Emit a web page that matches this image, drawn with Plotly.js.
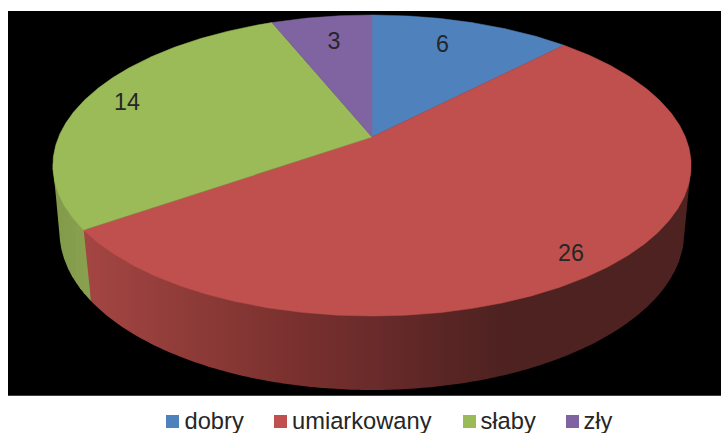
<!DOCTYPE html>
<html>
<head>
<meta charset="utf-8">
<script src="https://cdn.plot.ly/plotly-3.0.1.min.js"></script>
<style>html,body{margin:0;padding:0;background:#fff;overflow:hidden}</style>
</head>
<body>
<div id="chart" style="width:721px;height:433px"></div>
<script>
// Data
var categories = ['dobry', 'umiarkowany', 'słaby', 'zły'];
var values = [6, 26, 14, 3];

// Styles
var sliceColors = ['#4F81BD', '#C0504D', '#9BBB59', '#8064A2'];
var textColor = '#262626';
var fontFamily = '"Liberation Sans", Arial, sans-serif';
var fontSize = 23.3;
var legendFontSize = 23.7;

// Layout positions, in the pixel-sized axis units used below
var labelX = [442.5, 571, 127, 334];
var labelY = [46, 255.5, 104, 43.5];
var legendX = [172.5, 280.5, 469.5, 572.5];
var legendTextX = [184.5, 292, 480.5, 583.5];
var legendY = 421.5;
var legendTextY = 423.5;

// Perspective projection of the pie disc
var topRim = {cx: 372, cy: 137, a: 313.4, b: 145.1, k: 0.1894};
var bottomRim = {cx: 372, cy: 203.4, a: 307.4, b: 153, k: 0.18};

function project(rim, deg, r) {
  var t = deg * Math.PI / 180, u = r * Math.sin(t), v = r * Math.cos(t);
  var w = 1 + rim.k * v;
  return [rim.cx + rim.a * u / w, rim.cy - rim.b * v / w];
}

// Front half of a rim, sorted by screen x, for looking up y at a given x
function frontArc(rim) {
  var first = Math.acos(-rim.k) * 180 / Math.PI, pts = [];
  for (var a = first; a <= 360 - first; a += 0.25) pts.push(project(rim, a, 1));
  return pts.sort(function (p, q) { return p[0] - q[0]; });
}
function arcY(arc, x) {
  if (x <= arc[0][0]) return arc[0][1];
  for (var i = 1; i < arc.length; i++) {
    if (x <= arc[i][0]) {
      var f = (x - arc[i-1][0]) / (arc[i][0] - arc[i-1][0]);
      return arc[i-1][1] + f * (arc[i][1] - arc[i-1][1]);
    }
  }
  return arc[arc.length - 1][1];
}

// Shade stops for the red wall, by screen x
var redShade = [[90,[163,69,66]],[200,[140,58,55]],[300,[120,48,46]],[372,[106,43,43]],[450,[88,37,36]],[505,[77,34,32]],[720,[77,34,32]]];
function shadeRed(x) {
  if (x <= redShade[0][0]) return 'rgb(163,69,66)';
  for (var i = 1; i < redShade.length; i++) {
    if (x <= redShade[i][0]) {
      var p = redShade[i-1], q = redShade[i], f = (x - p[0]) / (q[0] - p[0]);
      return 'rgb(' + [0,1,2].map(function (c) { return Math.round(p[1][c] + f * (q[1][c] - p[1][c])); }).join(',') + ')';
    }
  }
  return 'rgb(77,34,32)';
}
function shadeGreen(x) {
  var f = Math.min(1, Math.max(0, (x - 55) / 35));
  return 'rgb(' + Math.round(128 + f * 10) + ',' + Math.round(154 + f * 8) + ',' + Math.round(75 + f * 4) + ')';
}

var total = values.reduce(function (a, b) { return a + b; }, 0);
var traces = [];
var start = 0, bounds = [];
values.forEach(function (val) {
  var end = start + val / total * 360;
  bounds.push([start, end]);
  start = end;
});

// Side wall, drawn as vertical bands between the two rims
var topArc = frontArc(topRim), botArc = frontArc(bottomRim);
var topL = topArc[0], topR = topArc[topArc.length - 1];
var botL = botArc[0], botR = botArc[botArc.length - 1];
var seamAngle = bounds[1][1];                 // red / green boundary
var seamTop = project(topRim, seamAngle, 1), seamBot = project(bottomRim, seamAngle, 1);

function lowerY(x) {
  if (x < botL[0]) return topL[1] + (x - topL[0]) / (botL[0] - topL[0]) * (botL[1] - topL[1]);
  if (x > botR[0]) return topR[1] + (x - topR[0]) / (botR[0] - topR[0]) * (botR[1] - topR[1]);
  return arcY(botArc, x);
}
function band(x0, x1, low, col) {
  var xs = [], ys = [], n = 3, i, x;
  for (i = 0; i <= n; i++) { x = x0 + (x1 - x0) * i / n; xs.push(x); ys.push(arcY(topArc, x) - 3); }
  for (i = n; i >= 0; i--) { x = x0 + (x1 - x0) * i / n; xs.push(x); ys.push(low(x)); }
  traces.push({type: 'scatter', mode: 'lines', x: xs, y: ys, fill: 'toself', fillcolor: col,
    line: {width: 0}, hoverinfo: 'skip', showlegend: false});
}
var bw = 4, x;
// green part of the wall
for (x = Math.floor(topL[0]); x < seamBot[0]; x += bw) {
  band(Math.max(x, topL[0]), Math.min(x + bw, seamBot[0]), lowerY, shadeGreen(x + bw / 2));
}
// red part of the wall, its left edge being the slanted seam
function redLower(x) {
  if (x < seamBot[0]) return seamTop[1] + (x - seamTop[0]) / (seamBot[0] - seamTop[0]) * (seamBot[1] - seamTop[1]);
  return lowerY(x);
}
for (x = Math.floor(seamTop[0]); x < topR[0]; x += bw) {
  band(Math.max(x, seamTop[0]), Math.min(x + bw, topR[0]), redLower, shadeRed(x + bw / 2));
}

// Top face slices
bounds.forEach(function (bd, idx) {
  var xs = [], ys = [], c = project(topRim, 0, 0);
  xs.push(c[0]); ys.push(c[1]);
  for (var a = bd[0]; a < bd[1]; a += 0.5) { var p = project(topRim, a, 1); xs.push(p[0]); ys.push(p[1]); }
  var e = project(topRim, bd[1], 1); xs.push(e[0], c[0]); ys.push(e[1], c[1]);
  traces.push({type: 'scatter', mode: 'lines', name: categories[idx], x: xs, y: ys, fill: 'toself',
    fillcolor: sliceColors[idx], line: {color: sliceColors[idx], width: 0.5},
    text: categories[idx] + ': ' + values[idx], hoverinfo: 'text', showlegend: false});
});

// Value labels
traces.push({type: 'scatter', mode: 'text', x: labelX, y: labelY, text: values.map(String),
  textposition: 'middle center', textfont: {family: fontFamily, size: fontSize, color: textColor},
  hoverinfo: 'skip', showlegend: false, cliponaxis: false});

// Legend swatches and names
traces.push({type: 'scatter', mode: 'markers', x: legendX, y: legendX.map(function () { return legendY; }),
  marker: {symbol: 'square', size: 13, color: sliceColors, line: {width: 0}},
  hoverinfo: 'skip', showlegend: false, cliponaxis: false});
traces.push({type: 'scatter', mode: 'text', x: legendTextX, y: legendTextX.map(function () { return legendTextY; }),
  text: categories, textposition: 'middle right',
  textfont: {family: fontFamily, size: legendFontSize, color: textColor},
  hoverinfo: 'skip', showlegend: false, cliponaxis: false});

var hidden = {visible: false, fixedrange: true};
var layout = {
  width: 721, height: 433,
  margin: {l: 0, r: 0, t: 0, b: 0},
  paper_bgcolor: '#ffffff', plot_bgcolor: '#ffffff',
  showlegend: false,
  xaxis: Object.assign({range: [0, 721]}, hidden),
  yaxis: Object.assign({range: [433, 0]}, hidden),
  shapes: [{type: 'rect', layer: 'below', xref: 'x', yref: 'y', x0: 8, x1: 721, y0: 11, y1: 395.7,
    fillcolor: '#000000', line: {width: 0}}]
};
Plotly.newPlot('chart', traces, layout, {displayModeBar: false});
</script>
</body>
</html>
